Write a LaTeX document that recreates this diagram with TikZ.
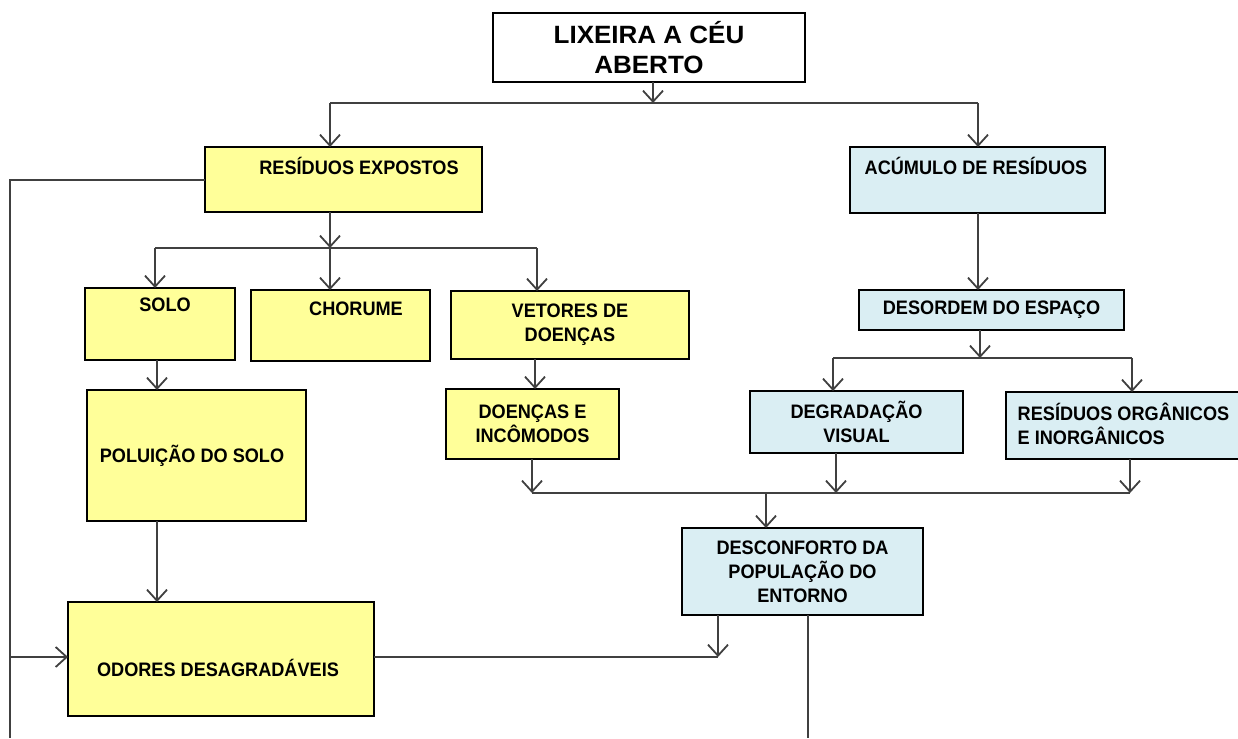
\documentclass[tikz,border=0pt]{standalone}
\usepackage{fontspec}
\setmainfont{Liberation Sans}
\newfontfamily\bodyf{Liberation Sans}[FakeStretch=0.93]
\newfontfamily\titlef{Liberation Sans}[FakeStretch=1.04]
\usetikzlibrary{arrows.meta}
\definecolor{ylw}{HTML}{FFFF99}
\definecolor{lblu}{HTML}{DAEEF3}
\definecolor{lncol}{HTML}{404040}
\begin{document}
\begin{tikzpicture}[x=1pt,y=-1pt,
  box/.style={draw=black, line width=1.6pt, inner sep=0pt, outer sep=0pt},
  ybox/.style={box, fill=ylw},
  bbox/.style={box, fill=lblu},
  txt/.style={font=\bodyf\bfseries\fontsize{19.5}{24}\selectfont, align=center, inner sep=0pt, text=black},
  ln/.style={draw=lncol, line width=1.8pt},
  arr/.style={ln, -{Straight Barb[length=11pt,width=20pt]}}]
\useasboundingbox (0,0) rectangle (1238,738);
\fill[white] (0,0) rectangle (1238,738);

% boxes
\node[box, fill=white, minimum width=312pt, minimum height=69pt, align=center,
      font=\titlef\bfseries\fontsize{25}{29.5}\selectfont] (lix) at (649,47.5) {LIXEIRA A CÉU\\ABERTO};
\node[ybox, minimum width=277pt, minimum height=65pt,
      label={[txt,xshift=15.5pt,yshift=14pt]center:RESÍDUOS EXPOSTOS}] (res) at (343.5,179.5) {};
\node[bbox, minimum width=255pt, minimum height=66pt,
      label={[txt,xshift=-1.5pt,yshift=14pt]center:ACÚMULO DE RESÍDUOS}] (acu) at (977.5,180) {};
\node[ybox, minimum width=150pt, minimum height=72pt,
      label={[txt,xshift=5pt,yshift=19pt]center:SOLO}] (solo) at (160,324) {};
\node[ybox, minimum width=179pt, minimum height=71pt,
      label={[txt,xshift=15.5pt,yshift=16.5pt]center:CHORUME}] (cho) at (340.5,325.5) {};
\node[ybox, txt, minimum width=238pt, minimum height=68pt] (vet) at (570,325) {VETORES DE\\DOENÇAS};
\node[ybox, minimum width=219pt, minimum height=131pt,
      label={[txt,xshift=-4.5pt]center:POLUIÇÃO DO SOLO}] (pol) at (196.5,455.5) {};
\node[ybox, minimum width=306pt, minimum height=114pt,
      label={[txt,xshift=-3pt,yshift=-9pt]center:ODORES DESAGRADÁVEIS}] (odo) at (221,659) {};
\node[ybox, txt, minimum width=173pt, minimum height=70pt] (doe) at (532.5,424) {DOENÇAS E\\INCÔMODOS};
\node[bbox, txt, minimum width=265pt, minimum height=40pt] (des) at (991.5,310) {DESORDEM DO ESPAÇO};
\node[bbox, txt, minimum width=213pt, minimum height=62pt] (deg) at (856.5,422) {DEGRADAÇÃO\\VISUAL};
\node[bbox, minimum width=239pt, minimum height=67pt,
      label={[txt,align=left,xshift=-2pt,yshift=1.5pt]center:RESÍDUOS ORGÂNICOS\\E INORGÂNICOS}] (rorg) at (1125.5,425.5) {};
\node[bbox, txt, minimum width=241pt, minimum height=87pt] (dsc) at (802.5,571.5) {DESCONFORTO DA\\POPULAÇÃO DO\\ENTORNO};

% junction coordinates
\coordinate (b1l) at (330,103);
\coordinate (b1m) at (653,103);
\coordinate (b1r) at (978,103);
\coordinate (b2a) at (155,248);
\coordinate (b2m) at (330,248);
\coordinate (b2c) at (537,248);
\coordinate (b3a) at (532,493);
\coordinate (b3b) at (766,493);
\coordinate (b3c) at (836,493);
\coordinate (b3d) at (1130,493);
\coordinate (b4a) at (833,358);
\coordinate (b4m) at (980,358);
\coordinate (b4b) at (1132,358);
\coordinate (cs) at (157,0);
\coordinate (cv) at (535,0);
\coordinate (ca) at (978,0);
\coordinate (L1) at (10,180);
\coordinate (L2) at (10,738);
\coordinate (L3) at (10,657);
\coordinate (k1) at (718,657);
\coordinate (k2) at (808,738);

% top bus
\draw[arr] (lix.south -| b1m) -- (b1m);
\draw[ln] (b1l) -- (b1r);
\draw[arr] (b1l) -- (res.north -| b1l);
\draw[arr] (b1r) -- (acu.north -| b1r);

% left branch
\draw[arr] (res.south -| b2m) -- (b2m);
\draw[ln] (b2a) -- (b2c);
\draw[arr] (b2a) -- (solo.north -| b2a);
\draw[arr] (b2m) -- (cho.north -| b2m);
\draw[arr] (b2c) -- (vet.north -| b2c);
\draw[arr] (solo.south -| cs) -- (pol.north -| cs);
\draw[arr] (pol.south -| cs) -- (odo.north -| cs);
\draw[arr] (vet.south -| cv) -- (doe.north -| cv);

% outer left line
\draw[ln] (res.west |- L1) -- (L1) -- (L2);
\draw[arr] (L3) -- (odo.west |- L3);
\draw[ln] (odo.east |- k1) -- (k1);
\draw[arr] (dsc.south -| k1) -- (k1);
\draw[ln] (dsc.south -| k2) -- (k2);

% right branch
\draw[arr] (acu.south -| ca) -- (des.north -| ca);
\draw[arr] (des.south -| b4m) -- (b4m);
\draw[ln] (b4a) -- (b4b);
\draw[arr] (b4a) -- (deg.north -| b4a);
\draw[arr] (b4b) -- (rorg.north -| b4b);

% bottom bus
\draw[arr] (doe.south -| b3a) -- (b3a);
\draw[arr] (deg.south -| b3c) -- (b3c);
\draw[arr] (rorg.south -| b3d) -- (b3d);
\draw[ln] (b3a) -- (b3d);
\draw[arr] (b3b) -- (dsc.north -| b3b);
\end{tikzpicture}
\end{document}
